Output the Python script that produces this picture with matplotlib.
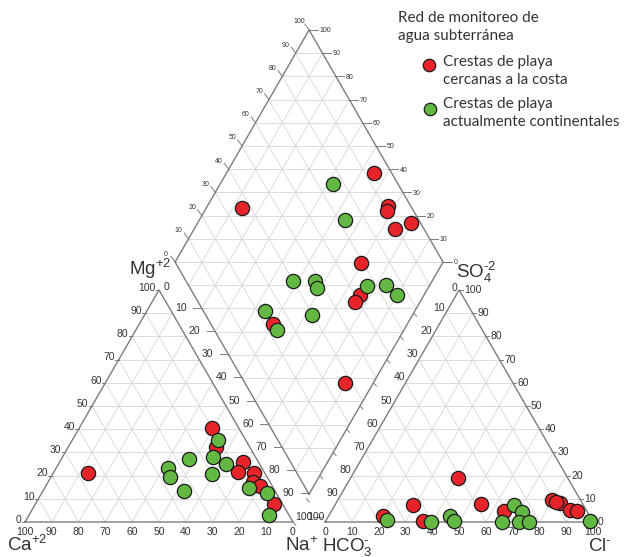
import numpy as np
import matplotlib.pyplot as plt

plt.rcParams['font.family'] = ['Liberation Sans', 'DejaVu Sans']
plt.rcParams['mathtext.fontset'] = 'custom'
plt.rcParams['mathtext.rm'] = 'Liberation Sans'
plt.rcParams['mathtext.default'] = 'rm'

# Piper diagram values (% meq/L)
# cation triangle: Mg and Na+K (Ca is the rest)
cat_red_mg = [40.4, 32.4, 25.7, 21.7, 21.0, 17.4, 15.5, 7.6, 21.2]
cat_red_na = [49.5, 55.1, 68.4, 68.8, 74.9, 76.3, 79.9, 89.1, 13.0]
cat_green_mg = [35.3, 27.1, 23.1, 19.5, 28.1, 24.9, 20.7, 13.4, 14.5, 12.6, 3.0]
cat_green_na = [54.5, 47.7, 41.9, 44.3, 56.2, 62.6, 59.4, 52.7, 76.4, 83.9, 89.7]

# anion triangle: SO4 and Cl (HCO3 is the rest)
an_red_so4 = [18.8, 7.5, 7.6, 2.5, 0.5, 4.7, 9.5, 8.1, 5.2, 4.7, 8.6]
an_red_cl = [40.2, 29.1, 54.4, 20.4, 36.4, 64.4, 79.8, 83.6, 88.6, 91.6, 81.9]
an_green_so4 = [0.9, 0.1, 2.4, 0.6, 0.0, 7.2, 4.4, 0.0, 0.0, 0.4]
an_green_cl = [22.6, 39.5, 45.4, 47.8, 66.0, 66.7, 71.4, 72.4, 75.9, 98.7]

# diamond: SO4+Cl and Ca+Mg
dia_red_so4cl = [93.5, 36.6, 91.6, 90.1, 89.2, 96.4, 69.2, 62.0, 58.6, 23.1, 37.5]
dia_red_camg = [44.9, 86.8, 32.6, 31.9, 25.1, 20.5, 30.4, 23.9, 24.3, 50.2, 10.6]
dia_green_so4cl = [75.6, 72.5, 39.9, 48.2, 47.2, 66.4, 73.8, 75.5, 23.1, 39.6, 23.6]
dia_green_camg = [58.0, 45.7, 52.0, 43.7, 41.5, 23.3, 16.4, 10.1, 55.9, 37.6, 47.2]

ticks = list(range(0, 101, 10))
legend_title = "Red de monitoreo de\nagua subterránea"
legend_red = "Crestas de playa\ncercanas a la costa"
legend_green = "Crestas de playa\nactualmente continentales"

RED = '#e8242b'
GREEN = '#62b843'
GRID = '#d6d6d6'
EDGE = '#7c7c7c'
TXT = '#333333'

H = np.sqrt(3) / 2
GAP = 12.0
B = np.array([100 + GAP / 2, GAP / 2 * np.sqrt(3)])   # diamond bottom


def cat_xy(mg, na):
    mg, na = np.asarray(mg), np.asarray(na)
    return na + mg / 2, mg * H


def an_xy(so4, cl):
    so4, cl = np.asarray(so4), np.asarray(cl)
    return 100 + GAP + cl + so4 / 2, so4 * H


def dia_xy(a, b):
    a, b = np.asarray(a), np.asarray(b)
    return B[0] + 0.5 * (a - b), B[1] + H * (a + b)


def line(p, q, **kw):
    ax.plot([p[0], q[0]], [p[1], q[1]], **kw)


def triangle(p0, p1, p2):
    p0, p1, p2 = map(np.array, (p0, p1, p2))
    for i in range(1, 10):
        t = i / 10
        line(p0 + t * (p2 - p0), p1 + t * (p2 - p1), color=GRID, lw=0.6)
        line(p0 + t * (p1 - p0), p2 + t * (p1 - p2), color=GRID, lw=0.6)
        line(p1 + t * (p0 - p1), p2 + t * (p0 - p2), color=GRID, lw=0.6)
    ax.plot([p0[0], p1[0], p2[0], p0[0]], [p0[1], p1[1], p2[1], p0[1]], color=EDGE, lw=1.0)


fig = plt.figure(figsize=(6.27, 5.57), dpi=100)
ax = fig.add_axes([0, 0, 1, 1])
px = 2.68
ax.set_xlim(-25 / px, 602 / px)
ax.set_ylim(-35 / px, 522 / px)
ax.axis('off')

# triangles
triangle((0, 0), (100, 0), (50, 100 * H))
triangle((100 + GAP, 0), (200 + GAP, 0), (150 + GAP, 100 * H))

# diamond
L_ = np.array([B[0] - 50, B[1] + 100 * H])
R_ = np.array([B[0] + 50, B[1] + 100 * H])
T_ = np.array([B[0], B[1] + 200 * H])
for i in range(1, 10):
    t = i / 10
    line(B + t * (L_ - B), R_ + t * (T_ - R_), color=GRID, lw=0.6)
    line(B + t * (R_ - B), L_ + t * (T_ - L_), color=GRID, lw=0.6)
for k in range(1, 20):
    y = B[1] + k * 10 * H
    hw = (y - B[1]) / np.sqrt(3) if k <= 10 else (T_[1] - y) / np.sqrt(3)
    line((B[0] - hw, y), (B[0] + hw, y), color=GRID, lw=0.6)
ax.plot([B[0], L_[0], T_[0], R_[0], B[0]], [B[1], L_[1], T_[1], R_[1], B[1]], color=EDGE, lw=1.0)

fs = 7.5
# cation triangle labels
for v in ticks:
    ax.text(100 - v, -3.8, str(v), ha='center', va='center', fontsize=fs, color=TXT)
    x, y = cat_xy(v, 0)
    line((x, y), (x - 1.3, y), color=EDGE, lw=0.7)
    ax.text(x - 1.4, y + 0.8, str(v), ha='right', va='center', fontsize=fs, color=TXT)
# anion triangle labels
for v in ticks:
    ax.text(100 + GAP + v, -3.8, str(v), ha='center', va='center', fontsize=fs, color=TXT)
    x, y = an_xy(v, 100 - v)
    line((x, y), (x + 1.3, y), color=EDGE, lw=0.7)
    ax.text(x + 1.8, y, str(v), ha='left', va='center', fontsize=fs, color=TXT)

# Na+K labels between cation triangle and diamond
for v in ticks:
    x, y = cat_xy(100 - v, v)
    yt = y + 2.0
    xe = L_[0] + (L_[1] - yt) / (100 * H) * 50
    if v > 0:
        line((xe - 3.0, yt), (xe, yt), color=EDGE, lw=0.7)
        ax.text(x + 1.0, yt, str(v), ha='left', va='center', fontsize=fs, color=TXT)
    else:
        ax.text(x + 1.6, y + 1.0, str(v), ha='left', va='center', fontsize=fs, color=TXT)
# HCO3 labels between diamond and anion triangle
for v in ticks:
    x, y = an_xy(100 - v, 0)
    yt = y + 2.0
    xe = R_[0] - (R_[1] - y) / (100 * H) * 50
    if v > 0:
        line((xe, y), (xe + 1.1, y - 1.2), color=EDGE, lw=0.7)
        ax.text(x - 0.2, yt, str(v), ha='right', va='center', fontsize=fs, color=TXT)
    else:
        ax.text(x - 0.6, y + 0.6, str(v), ha='right', va='center', fontsize=fs, color=TXT)

# upper diamond edge labels
for v in ticks:
    p = L_ + v / 100 * (T_ - L_)
    line(p, p + np.array([-1.6, 2.2]), color=EDGE, lw=0.7)
    ax.text(p[0] - 3.6, p[1] + 3.0, str(v), ha='center', va='center', fontsize=5, color=TXT)
    q = R_ + v / 100 * (T_ - R_)
    line(q, q + np.array([3.2, 0]), color=EDGE, lw=0.7)
    ax.text(q[0] + 3.8, q[1] - 0.3, str(v), ha='left', va='center', fontsize=5, color=TXT)

# ion names
ion_fs = 13.5
ax.text(54.5, 92.0, 'Mg$^{+2}$', ha='right', va='baseline', fontsize=ion_fs, color=TXT)
ax.text(161.0, 91.2, 'SO$_4^{\u2010 2}$', ha='left', va='baseline', fontsize=ion_fs, color=TXT)
ax.text(-6.6, -10.8, 'Ca$^{+2}$', ha='left', va='baseline', fontsize=ion_fs, color=TXT)
ax.text(97.0, -10.8, 'Na$^{+}$', ha='left', va='baseline', fontsize=ion_fs, color=TXT)
ax.text(110.8, -10.8, 'HCO$_3^{\u2010}$', ha='left', va='baseline', fontsize=ion_fs, color=TXT)
ax.text(210.2, -10.8, 'Cl$^{\u2010}$', ha='left', va='baseline', fontsize=ion_fs, color=TXT)

# samples
mk = dict(s=105, edgecolors='#1a1a1a', linewidths=0.9, zorder=5)
ax.scatter(*cat_xy(cat_red_mg, cat_red_na), c=RED, **mk)
ax.scatter(*cat_xy(cat_green_mg, cat_green_na), c=GREEN, **mk)
ax.scatter(*an_xy(an_red_so4, an_red_cl), c=RED, **mk)
ax.scatter(*an_xy(an_green_so4, an_green_cl), c=GREEN, **mk)
ax.scatter(*dia_xy(dia_red_so4cl, dia_red_camg), c=RED, **mk)
ax.scatter(*dia_xy(dia_green_so4cl, dia_green_camg), c=GREEN, **mk)

# legend
lf = dict(fontsize=11, color='#333333', family=['Lato', 'DejaVu Sans'], linespacing=1.3,
          transform=fig.transFigure, va='center', ha='left')
fig.text(398 / 627, 1 - 27 / 557, legend_title, **lf)
fig.text(443 / 627, 1 - 71 / 557, legend_red, **lf)
fig.text(443 / 627, 1 - 113 / 557, legend_green, **lf)
lg = fig.add_axes([0, 0, 1, 1], facecolor='none')
lg.set_xlim(0, 627)
lg.set_ylim(557, 0)
lg.axis('off')
lg.scatter([429], [65], s=80, c=RED, edgecolors='#1a1a1a', linewidths=0.9)
lg.scatter([430], [109], s=80, c=GREEN, edgecolors='#1a1a1a', linewidths=0.9)

fig.savefig('out.png', dpi=100)
